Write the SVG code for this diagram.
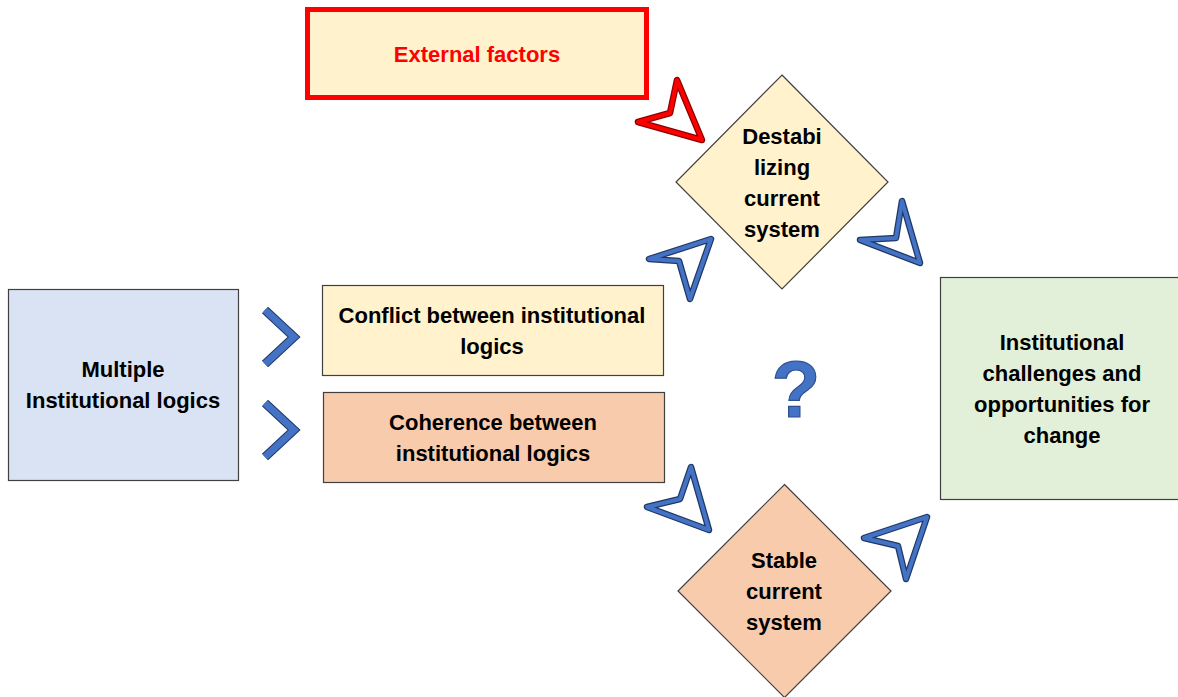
<svg xmlns="http://www.w3.org/2000/svg" width="1178" height="697" viewBox="0 0 1178 697">
  <style>
    .box { stroke: #404040; stroke-width: 1.2; }
    .lbl { font-family: "Liberation Sans", Arial, sans-serif; font-weight: bold; font-size: 22px; fill: #000; text-anchor: middle; }
    .edge-blue-out { fill: #fff; stroke: #1f3864; stroke-width: 6.5; stroke-linejoin: round; }
    .edge-blue { fill: none; stroke: #4472C4; stroke-width: 4; stroke-linejoin: round; }
    .edge-red-out { fill: #fff; stroke: #8b0000; stroke-width: 6.5; stroke-linejoin: round; }
    .edge-red { fill: none; stroke: #FF0000; stroke-width: 4; stroke-linejoin: round; }
    .chev-out { fill: none; stroke: #1f3864; stroke-width: 9; stroke-linejoin: miter; }
    .chev { fill: none; stroke: #4472C4; stroke-width: 7; stroke-linejoin: miter; }
  </style>
  <rect width="1178" height="697" fill="#fff"/>

  <g id="external-factors">
    <rect x="307.5" y="9.5" width="339" height="88" fill="#FFF2CC" stroke="#FF0000" stroke-width="5"/>
    <text class="lbl" x="477" y="62" style="fill:#FF0000">External factors</text>
  </g>

  <g id="multiple-logics">
    <rect class="box" x="8.5" y="289.5" width="230" height="191" fill="#DAE3F3"/>
    <text class="lbl" x="123" y="377">Multiple</text>
    <text class="lbl" x="123" y="408">Institutional logics</text>
  </g>

  <g id="conflict">
    <rect class="box" x="322.5" y="285.5" width="341" height="90" fill="#FFF2CC"/>
    <text class="lbl" x="492" y="323">Conflict between institutional</text>
    <text class="lbl" x="492" y="354">logics</text>
  </g>

  <g id="coherence">
    <rect class="box" x="323.5" y="392.5" width="341" height="90" fill="#F8CBAD"/>
    <text class="lbl" x="493" y="430">Coherence between</text>
    <text class="lbl" x="493" y="461">institutional logics</text>
  </g>

  <g id="destabilizing">
    <polygon class="box" points="782,75 888,182 782,289 676,182" fill="#FFF2CC"/>
    <text class="lbl" x="782" y="144">Destabi</text>
    <text class="lbl" x="782" y="175">lizing</text>
    <text class="lbl" x="782" y="206">current</text>
    <text class="lbl" x="782" y="237">system</text>
  </g>

  <g id="stable">
    <polygon class="box" points="784.5,484.5 891,591 784.5,697.5 678,591" fill="#F8CBAD"/>
    <text class="lbl" x="784" y="568">Stable</text>
    <text class="lbl" x="784" y="599">current</text>
    <text class="lbl" x="784" y="630">system</text>
  </g>

  <g id="challenges">
    <rect class="box" x="940.5" y="277.5" width="240" height="222" fill="#E2F0D9"/>
    <text class="lbl" x="1062" y="350">Institutional</text>
    <text class="lbl" x="1062" y="381">challenges and</text>
    <text class="lbl" x="1062" y="412">opportunities for</text>
    <text class="lbl" x="1062" y="443">change</text>
  </g>

  <g id="unknown">
    <text x="796" y="417" font-family="Liberation Sans, Arial, sans-serif" font-weight="bold" font-size="80" text-anchor="middle" fill="#4472C4" stroke="#2f528f" stroke-width="1.2">?</text>
  </g>

  <g id="connectors">
    <!-- chevrons from Multiple logics -->
    <polyline class="chev-out" points="265,310 294,337 265,364"/>
    <polyline class="chev" points="265,310 294,337 265,364"/>
    <polyline class="chev-out" points="265,403 294,430 265,457"/>
    <polyline class="chev" points="265,403 294,430 265,457"/>

    <!-- external factors -> destabilizing -->
    <polygon class="edge-red-out" points="702,140 677,80 670,113 638,122"/>
    <polygon class="edge-red" points="702,140 677,80 670,113 638,122"/>

    <!-- conflict -> destabilizing -->
    <polygon class="edge-blue-out" points="711,239 649,259 679,261 690,299"/>
    <polygon class="edge-blue" points="711,239 649,259 679,261 690,299"/>

    <!-- destabilizing -> challenges -->
    <polygon class="edge-blue-out" points="920,263 902,201 896,238 860,240"/>
    <polygon class="edge-blue" points="920,263 902,201 896,238 860,240"/>

    <!-- coherence -> stable -->
    <polygon class="edge-blue-out" points="709,530 691,467 680,499 647,507"/>
    <polygon class="edge-blue" points="709,530 691,467 680,499 647,507"/>

    <!-- stable -> challenges -->
    <polygon class="edge-blue-out" points="927,517 864,538 898,546 906,579"/>
    <polygon class="edge-blue" points="927,517 864,538 898,546 906,579"/>
  </g>
</svg>
